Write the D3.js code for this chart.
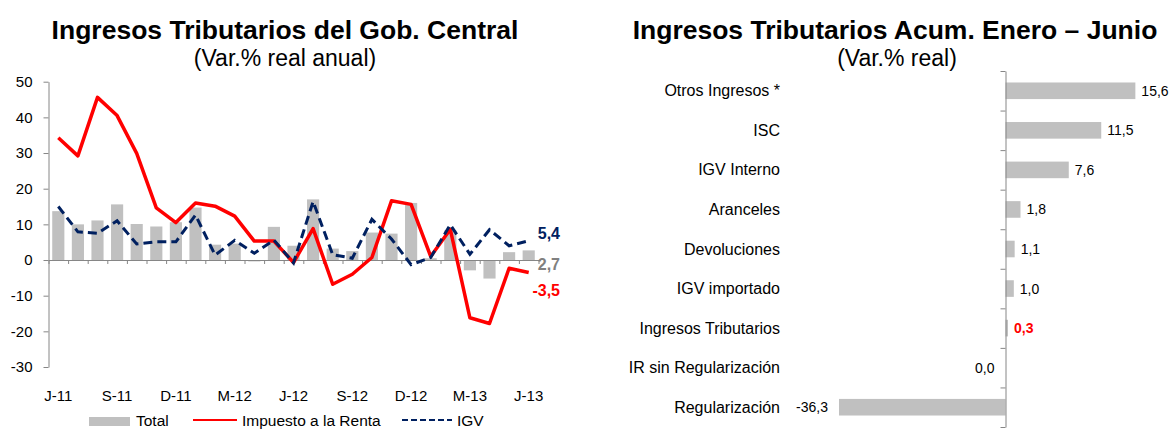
<!DOCTYPE html>
<html>
<head>
<meta charset="utf-8">
<script src="https://cdn.jsdelivr.net/npm/d3@7"></script>
<style>
  body { margin: 0; background: #fff; }
  svg { display: block; font-family: "Liberation Sans", Arial, sans-serif; }
  .axis path, .axis line { stroke: #868686; }
</style>
</head>
<body>
<svg id="chart" width="1171" height="430"></svg>
<script>
// Left chart: monthly real growth
const months = ['Jun-11', 'Jul-11', 'Ago-11', 'Sep-11', 'Oct-11', 'Nov-11', 'Dic-11',
  'Ene-12', 'Feb-12', 'Mar-12', 'Abr-12', 'May-12', 'Jun-12', 'Jul-12', 'Ago-12',
  'Sep-12', 'Oct-12', 'Nov-12', 'Dic-12', 'Ene-13', 'Feb-13', 'Mar-13', 'Abr-13',
  'May-13', 'Jun-13'];
const monthTicks = ['J-11', 'S-11', 'D-11', 'M-12', 'J-12', 'S-12', 'D-12', 'M-13', 'J-13'];
const total = [13.7, 10.0, 11.1, 15.6, 10.1, 9.4, 10.6, 14.7, 4.3, 4.6, -0.4, 9.3, 4.0,
  17.0, 3.2, 2.5, 7.7, 7.4, 16.0, 0.5, 8.3, -2.9, -5.2, 2.2, 2.7];
const renta = [34.3, 29.2, 45.6, 40.5, 29.9, 14.6, 10.5, 16.0, 15.1, 12.3, 5.3, 5.3, -0.7,
  8.8, -6.8, -4.0, 0.7, 16.6, 15.6, 1.0, 8.6, -16.2, -17.8, -2.3, -3.5];
const igv = [15.0, 7.9, 7.5, 11.0, 4.5, 5.1, 5.1, 12.6, 1.4, 5.5, 1.9, 5.6, -0.8, 16.4,
  1.5, 0.5, 11.4, 5.9, -1.3, 0.7, 9.9, 1.6, 8.5, 4.0, 5.4];
const yTicks = [-30, -20, -10, 0, 10, 20, 30, 40, 50];

// Right chart: accumulated Jan-Jun
const conceptos = ['Otros Ingresos *', 'ISC', 'IGV Interno', 'Aranceles', 'Devoluciones',
  'IGV importado', 'Ingresos Tributarios', 'IR sin Regularización', 'Regularización'];
const acumulado = [15.6, 11.5, 7.6, 1.8, 1.1, 1.0, 0.3, 0.0, -36.3];

// decimal comma and plain hyphen as in the source
const fmt = v => v.toFixed(1).replace('.', ',');
const svg = d3.select('#chart');

// ---------- left chart ----------
let x = d3.scaleBand().domain(months).range([48.5, 538.5]).paddingInner(0.38).paddingOuter(0.19);
let xIdx = d3.scaleLinear().domain([0, months.length]).range([48.5, 538.5]);
let y = d3.scaleLinear().domain([-30, 50]).range([367, 81.7]);
let cx = m => x(m) + x.bandwidth() / 2;

svg.append('text').attr('x', 285).attr('y', 39).attr('text-anchor', 'middle')
  .attr('font-size', 26.5).attr('font-weight', 'bold').text('Ingresos Tributarios del Gob. Central');
svg.append('text').attr('x', 285).attr('y', 66).attr('text-anchor', 'middle')
  .attr('font-size', 23).text('(Var.% real anual)');

svg.append('g').selectAll('rect').data(total).join('rect')
  .attr('x', (d, i) => x(months[i]))
  .attr('width', x.bandwidth())
  .attr('y', d => y(Math.max(0, d)))
  .attr('height', d => Math.abs(y(d) - y(0)))
  .attr('fill', '#c0c0c0');

let yAxis = svg.append('g').attr('class', 'axis').attr('transform', 'translate(48.5,0)')
  .call(d3.axisLeft(y).tickValues(yTicks).tickSize(5).tickPadding(11).tickSizeOuter(0)
    .tickFormat(d => String(d)));
yAxis.selectAll('text').attr('font-size', 15).attr('fill', '#000').attr('font-family', null);

// category axis crossing at zero, ticks between categories
svg.append('g').attr('class', 'axis').attr('transform', `translate(0,${y(0)})`)
  .call(d3.axisBottom(xIdx).tickValues(d3.range(months.length + 1)).tickSize(4)
    .tickSizeOuter(0).tickFormat(''));

svg.append('g').selectAll('text').data(monthTicks).join('text')
  .attr('x', (d, i) => cx(months[i * 3]))
  .attr('y', 401)
  .attr('text-anchor', 'middle')
  .attr('font-size', 15)
  .text(d => d);

let line = d3.line().x((d, i) => cx(months[i])).y(d => y(d));
svg.append('path').datum(renta).attr('d', line)
  .attr('fill', 'none').attr('stroke', '#ff0000').attr('stroke-width', 3.5)
  .attr('stroke-linejoin', 'round');
svg.append('path').datum(igv).attr('d', line)
  .attr('fill', 'none').attr('stroke', '#002060').attr('stroke-width', 3)
  .attr('stroke-dasharray', '9,5');

// end-of-series labels
let last = months.length - 1;
let endLabels = [
  { v: igv[last], dy: -1.5, color: '#002060' },
  { v: total[last], dy: 19.5, color: '#808080' },
  { v: renta[last], dy: 23.5, color: '#ff0000' }
];
svg.append('g').selectAll('text').data(endLabels).join('text')
  .attr('x', 560).attr('text-anchor', 'end')
  .attr('y', d => y(d.v) + d.dy)
  .attr('font-size', 16).attr('font-weight', 'bold')
  .attr('fill', d => d.color)
  .text(d => fmt(d.v));

// legend (sits at the very bottom edge, as in the source)
let lg = svg.append('g').attr('font-size', 15.5);
lg.append('rect').attr('x', 89).attr('y', 417).attr('width', 41).attr('height', 9).attr('fill', '#c0c0c0');
lg.append('text').attr('x', 136).attr('y', 426).text('Total');
lg.append('line').attr('x1', 193).attr('x2', 237).attr('y1', 420).attr('y2', 420)
  .attr('stroke', '#ff0000').attr('stroke-width', 2);
lg.append('text').attr('x', 242).attr('y', 426).text('Impuesto a la Renta');
lg.append('line').attr('x1', 402).attr('x2', 452).attr('y1', 420).attr('y2', 420)
  .attr('stroke', '#002060').attr('stroke-width', 2).attr('stroke-dasharray', '6,3');
lg.append('text').attr('x', 457).attr('y', 426).text('IGV');

// ---------- right chart ----------
let yR = d3.scaleBand().domain(conceptos).range([71, 427]).paddingInner(0.58).paddingOuter(0.29);
let xR = d3.scaleLinear().domain([-20, 20]).range([839, 1172]).clamp(true);
let yIdx = d3.scaleLinear().domain([0, conceptos.length]).range([71, 427]);

svg.append('text').attr('x', 895).attr('y', 39).attr('text-anchor', 'middle')
  .attr('font-size', 26.5).attr('font-weight', 'bold').text('Ingresos Tributarios Acum. Enero – Junio');
svg.append('text').attr('x', 897).attr('y', 66).attr('text-anchor', 'middle')
  .attr('font-size', 23).text('(Var.% real)');

svg.append('g').selectAll('rect').data(acumulado).join('rect')
  .attr('y', (d, i) => yR(conceptos[i]))
  .attr('height', yR.bandwidth())
  .attr('x', d => xR(Math.min(0, d)))
  .attr('width', d => Math.abs(xR(d) - xR(0)))
  .attr('fill', '#c0c0c0');

svg.append('g').attr('class', 'axis').attr('transform', `translate(${xR(0)},0)`)
  .call(d3.axisLeft(yIdx).tickValues(d3.range(conceptos.length + 1)).tickSize(5)
    .tickSizeOuter(0).tickFormat(''));

let rowY = c => yR(c) + yR.bandwidth() / 2;
svg.append('g').selectAll('text').data(conceptos).join('text')
  .attr('x', 780).attr('y', d => rowY(d) + 5.5)
  .attr('text-anchor', 'end').attr('font-size', 16)
  .text(d => d);

svg.append('g').selectAll('text').data(acumulado).join('text')
  .attr('x', d => d > 0 ? xR(d) + 6 : xR(d) - 11)
  .attr('y', (d, i) => rowY(conceptos[i]) + 5)
  .attr('text-anchor', d => d > 0 ? 'start' : 'end')
  .attr('font-size', 14)
  .attr('font-weight', (d, i) => conceptos[i] === 'Ingresos Tributarios' ? 'bold' : null)
  .attr('fill', (d, i) => conceptos[i] === 'Ingresos Tributarios' ? '#ff0000' : '#000')
  .text(d => fmt(d));
</script>
</body>
</html>
